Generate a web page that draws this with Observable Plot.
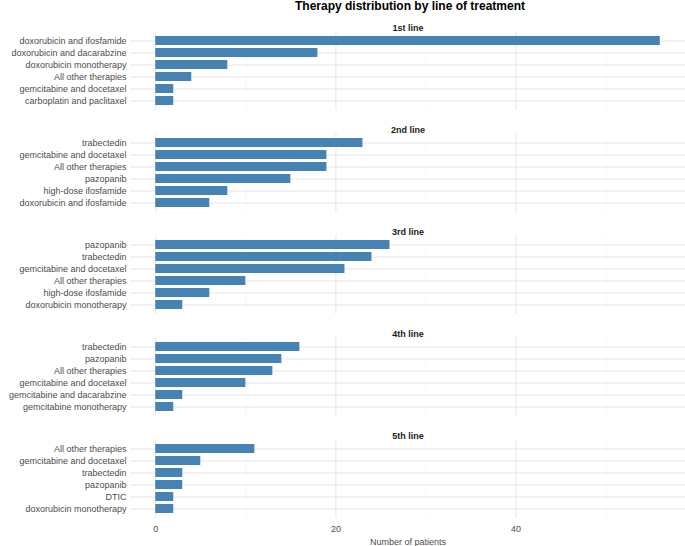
<!DOCTYPE html>
<html><head><meta charset="utf-8">
<script src="https://cdn.jsdelivr.net/npm/d3@7"></script>
<script src="https://cdn.jsdelivr.net/npm/@observablehq/plot@0.6"></script>
<style>
body{margin:0;background:#fff;font-family:"Liberation Sans",Arial,sans-serif;}
#title{height:19px;line-height:13px;font-weight:bold;font-size:12px;text-align:center;padding-left:135px;box-sizing:border-box;color:#000;}
svg{display:block;}
</style></head><body>
<div id="title">Therapy distribution by line of treatment</div>
<div id="chart"></div>
<script>
const lines = ["1st line","2nd line","3rd line","4th line","5th line"];
const therapies = [
  ["doxorubicin and ifosfamide","doxorubicin and dacarabzine","doxorubicin monotherapy","All other therapies","gemcitabine and docetaxel","carboplatin and paclitaxel"],
  ["trabectedin","gemcitabine and docetaxel","All other therapies","pazopanib","high-dose ifosfamide","doxorubicin and ifosfamide"],
  ["pazopanib","trabectedin","gemcitabine and docetaxel","All other therapies","high-dose ifosfamide","doxorubicin monotherapy"],
  ["trabectedin","pazopanib","All other therapies","gemcitabine and docetaxel","gemcitabine and dacarabzine","gemcitabine monotherapy"],
  ["All other therapies","gemcitabine and docetaxel","trabectedin","pazopanib","DTIC","doxorubicin monotherapy"]
];
const patients = [
  [56,18,8,4,2,2],
  [23,19,19,15,8,6],
  [26,24,21,10,6,3],
  [16,14,13,10,3,2],
  [11,5,3,3,2,2]
];
const majorTicks = [0,20,40];
const minorTicks = [10,30,50];

const chart = document.getElementById("chart");
lines.forEach((ln, i) => {
  const data = therapies[i].map((t, j) => ({therapy: t, n: patients[i][j]}));
  const last = i === lines.length - 1;
  const p = Plot.plot({
    width: 685,
    height: last ? 119 : 102,
    marginLeft: 130, marginRight: 0, marginTop: 12, marginBottom: last ? 28 : 11,
    style: {fontFamily: "Liberation Sans, Arial, sans-serif", fontSize: "9px", color: "#4d4d4d"},
    x: {domain: [-2.8, 58.8], axis: last ? "bottom" : null, ticks: majorTicks, tickSize: 0, tickPadding: 7, label: "Number of patients", labelAnchor: "center", labelArrow: "none", labelOffset: 26},
    y: {domain: therapies[i], padding: 0.28, label: null, tickSize: 0, tickPadding: 4},
    marks: [
      Plot.ruleX(minorTicks, {stroke: "#f3f3f3", strokeWidth: 0.6}),
      Plot.ruleX(majorTicks, {stroke: "#e6e6e6", strokeWidth: 1}),
      Plot.tickY(data, {y: "therapy", stroke: "#e6e6e6", strokeWidth: 1}),
      Plot.barX(data, {x: "n", y: "therapy", fill: "#4682b4"}),
      Plot.text([ln], {frameAnchor: "top", dy: -7, text: d => d, fontWeight: "bold", fontSize: 9, fill: "#1a1a1a"})
    ]
  });
  chart.appendChild(p);
});
</script>
</body></html>
